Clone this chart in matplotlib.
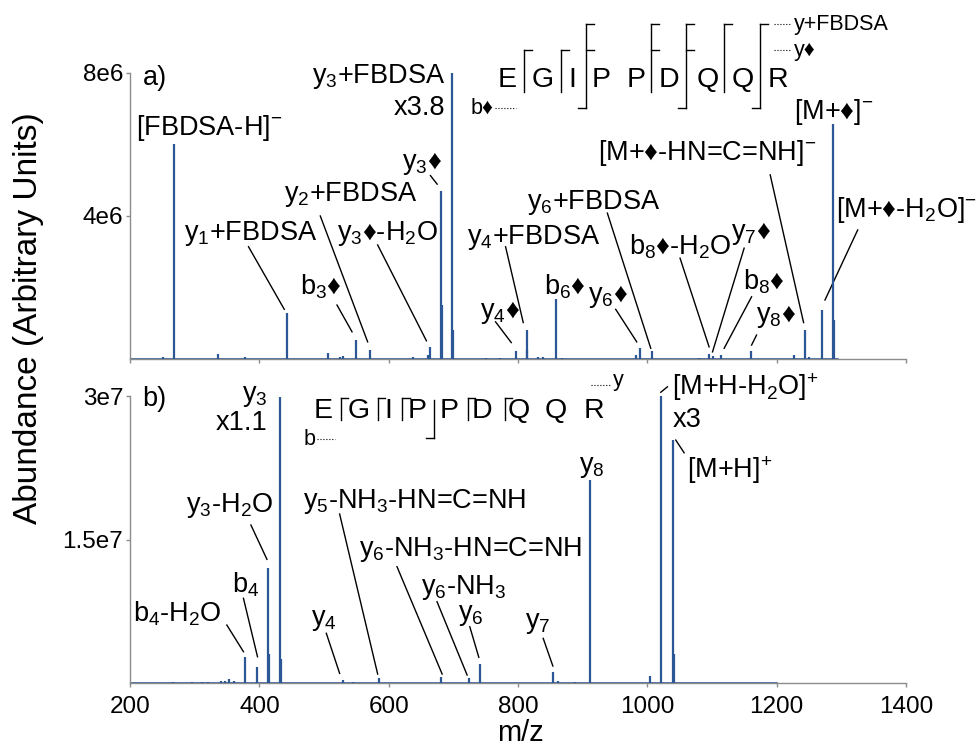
import matplotlib
matplotlib.use("Agg")
import matplotlib.pyplot as plt

plt.rcParams['font.family'] = ['Liberation Sans', 'DejaVu Sans']
plt.rcParams['mathtext.fontset'] = 'custom'
plt.rcParams['mathtext.rm'] = 'Liberation Sans'
plt.rcParams['mathtext.it'] = 'Liberation Sans'
plt.rcParams['mathtext.bf'] = 'Liberation Sans'

D = '\u2666'
PEAK = '#2b5797'
GREY = '#8c8c8c'
LABEL_FS = 19.5

# panel a) peaks (m/z, abundance)
mz_a = [251, 268.6, 335.8, 377.6, 442.0, 506.1, 524, 529, 549.5, 570.5, 638,
        660.7, 663.4, 681.5, 683, 698.6, 700, 751, 772, 796.1, 813.2, 814.5,
        830.6, 838, 859.2, 867.6, 982.6, 989.3, 1007.2, 1080, 1095.5, 1101.5,
        1114.5, 1160.0, 1227.0, 1243.6, 1250, 1269.9, 1287.4, 1289]
int_a = [0.05e6, 6.0e6, 0.15e6, 0.05e6, 1.28e6, 0.18e6, 0.07e6, 0.08e6, 0.53e6,
         0.25e6, 0.05e6, 0.12e6, 0.34e6, 4.7e6, 1.5e6, 8.0e6, 0.8e6, 0.02e6,
         0.03e6, 0.23e6, 0.81e6, 0.25e6, 0.05e6, 0.06e6, 1.68e6, 0.02e6, 0.12e6,
         0.3e6, 0.22e6, 0.04e6, 0.14e6, 0.08e6, 0.1e6, 0.23e6, 0.1e6, 0.81e6,
         0.05e6, 1.37e6, 6.57e6, 1.1e6]
scan_a = [200, 1295]

# panel b) peaks
mz_b = [267, 296, 311, 320, 340, 347, 353.5, 361, 378.1, 396.6, 414.1, 415.5,
        432.3, 433.5, 529.3, 545, 584.5, 681.1, 723.8, 740.9, 853.9, 861, 888,
        911.1, 1004.0, 1021.7, 1039.2, 1040.5]
int_b = [0.1e6, 0.15e6, 0.1e6, 0.15e6, 0.2e6, 0.2e6, 0.45e6, 0.2e6, 2.75e6,
         1.7e6, 12.0e6, 3.0e6, 29.9e6, 2.5e6, 0.31e6, 0.15e6, 0.49e6, 0.6e6,
         0.5e6, 1.99e6, 1.18e6, 0.25e6, 0.15e6, 21.2e6, 0.76e6, 30.0e6, 25.4e6,
         3.0e6]
scan_b = [200, 1200]

x_ticks = [200, 400, 600, 800, 1000, 1200, 1400]
y_ticks_a = [4e6, 8e6]
y_ticklabels_a = ['4e6', '8e6']
y_ticks_b = [1.5e7, 3e7]
y_ticklabels_b = ['1.5e7', '3e7']

sequence = ['E', 'G', 'I', 'P', 'P', 'D', 'Q', 'Q', 'R']

# label text, x, y, ha, leader line (x0, y0, x1, y1)
labels_a = [
    ('a)', 220, 7.86e6, 'left', None),
    (r'[FBDSA-H]$^{-}$', 322.3, 6.46e6, 'center', None),
    (r'y$_3$+FBDSA', 687.7, 7.89e6, 'right', None),
    ('x3.8', 687.7, 7.02e6, 'right', None),
    (r'y$_3$' + D, 652.1, 5.48e6, 'center', (664.5, 5.13e6, 674.9, 4.89e6)),
    (r'y$_2$+FBDSA', 540.6, 4.59e6, 'center', (494.2, 4.00e6, 567.4, 0.48e6)),
    (r'y$_1$+FBDSA', 385.8, 3.52e6, 'center', (383.2, 3.14e6, 438.5, 1.39e6)),
    (r'y$_3$' + D + r'-H$_2$O', 597.9, 3.52e6, 'center', (582.9, 3.19e6, 658.3, 0.51e6)),
    (r'b$_3$' + D, 495.7, 2.01e6, 'center', (520.0, 1.51e6, 543.3, 0.76e6)),
    (r'y$_4$+FBDSA', 824.0, 3.41e6, 'center', (780.7, 3.14e6, 808.0, 1.02e6)),
    (r'y$_4$' + D, 771.4, 1.31e6, 'center', (765.2, 1.04e6, 789.5, 0.46e6)),
    (r'y$_6$+FBDSA', 916.9, 4.39e6, 'center', (938.1, 4.08e6, 1005.2, 0.30e6)),
    (r'b$_6$' + D, 872.0, 2.01e6, 'center', None),
    (r'y$_6$' + D, 938.6, 1.76e6, 'center', (951.0, 1.39e6, 983.5, 0.48e6)),
    (r'b$_8$' + D + r'-H$_2$O', 1050.1, 3.13e6, 'center', (1050.5, 2.82e6, 1095.4, 0.34e6)),
    (r'y$_7$' + D, 1160.0, 3.52e6, 'center', (1149.6, 3.10e6, 1100.7, 0.20e6)),
    (r'b$_8$' + D, 1180.1, 2.15e6, 'center', (1161.1, 1.74e6, 1118.7, 0.30e6)),
    (r'y$_8$' + D, 1198.7, 1.20e6, 'center', (1168.8, 0.67e6, 1161.1, 0.39e6)),
    ('[M+' + D + r'-HN=C=NH]$^{-}$', 1091.9, 5.76e6, 'center', (1189.9, 5.15e6, 1241.5, 1.02e6)),
    ('[M+' + D + r'-H$_2$O]$^{-}$', 1400.0, 4.17e6, 'center', (1325.2, 3.61e6, 1274.6, 1.65e6)),
    ('[M+' + D + r']$^{-}$', 1288.5, 6.91e6, 'center', None),
]

labels_b = [
    ('b)', 218.6, 29.69e6, 'left', None),
    (r'y$_3$', 412.1, 30.0e6, 'right', None),
    ('x1.1', 412.1, 27.21e6, 'right', None),
    (r'y$_3$-H$_2$O', 353.3, 18.61e6, 'center', (386.9, 16.52e6, 411.7, 12.93e6)),
    (r'b$_4$', 378.1, 10.24e6, 'center', (375.4, 8.85e6, 397.1, 2.75e6)),
    (r'b$_4$-H$_2$O', 272.8, 7.29e6, 'center', (349.7, 6.06e6, 375.4, 3.27e6)),
    (r'y$_4$', 500.4, 6.59e6, 'center', (503.5, 5.20e6, 524.1, 1.01e6)),
    (r'y$_5$-NH$_3$-HN=C=NH', 467.4, 19.02e6, 'left', (524.1, 17.67e6, 582.9, 0.94e6)),
    (r'y$_6$-NH$_3$-HN=C=NH', 553.3, 14.01e6, 'left', (612.8, 12.16e6, 682.6, 0.94e6)),
    (r'y$_6$-NH$_3$', 650.0, 10.0e6, 'left', (674.7, 8.50e6, 721.2, 0.84e6)),
    (r'y$_6$', 726.5, 7.11e6, 'center', (725.4, 5.88e6, 739.3, 2.69e6)),
    (r'y$_7$', 830.2, 6.24e6, 'center', (838.9, 4.67e6, 853.8, 1.78e6)),
    (r'y$_8$', 913.8, 22.61e6, 'center', None),
    (r'[M+H-H$_2$O]$^{+}$', 1038.8, 30.97e6, 'left', (1020.7, 30.4e6, 1031.0, 30.97e6)),
    ('x3', 1038.8, 27.49e6, 'left', None),
    (r'[M+H]$^{+}$', 1060.9, 22.26e6, 'left', (1043.9, 25.40e6, 1056.8, 24.07e6)),
]

# fragment map: letter x, cut x with right hooks at levels and optional b hook
letters_x_a = [783.3, 837.5, 883.9, 927.7, 981.9, 1033.0, 1092.9, 1147.1, 1201.3]
cuts_a = [(809.0, ['yd'], False), (865.8, ['yd'], False),
          (904.5, ['yf', 'yd'], True), (1006.2, ['yf', 'yd'], False),
          (1059.4, ['yf', 'yd'], True), (1118.6, ['yf'], False),
          (1174.4, ['yf'], True)]
levels_a = {'yf': 9.36e6, 'yd': 8.64e6, 'bottom': 7.47e6, 'b': 7.02e6, 'top': 8.1e6}

letters_x_b = [499.3, 553.5, 599.9, 643.9, 692.9, 743.5, 801.3, 858.1, 917.4]
cuts_b = [(526.2, ['y'], False), (583.5, ['y'], False), (620.7, ['y'], False),
          (669.6, [], True), (722.1, ['y'], False), (779.1, ['y'], False)]
levels_b = {'y': 29.79e6, 'bottom': 27.49e6, 'b': 25.61e6, 'top': 29.6e6}


def draw_spectrum(ax, mz, inten, scan):
    ax.plot(scan, [0, 0], color=PEAK, lw=1.2, zorder=2)
    ax.vlines(mz, 0, inten, color=PEAK, lw=1.6, zorder=3)


def style_axes(ax, yticks, yticklabels, ymax, show_x):
    ax.set_xlim(200, 1400)
    ax.set_ylim(0, ymax)
    for s in ['top', 'right']:
        ax.spines[s].set_visible(False)
    for s in ['left', 'bottom']:
        ax.spines[s].set_color(GREY)
        ax.spines[s].set_linewidth(1)
    ax.spines['left'].set_bounds(0, yticks[-1])
    ax.set_xticks(x_ticks)
    ax.set_yticks(yticks)
    ax.set_yticklabels(yticklabels)
    ax.tick_params(axis='both', colors=GREY, labelcolor='black', labelsize=17.5,
                   length=3, width=1, pad=2)
    ax.tick_params(axis='x', labelbottom=show_x, pad=6)
    ax.patch.set_alpha(0)


def draw_labels(ax, labels):
    for txt, x, y, ha, line in labels:
        ax.text(x, y, txt, ha=ha, va='center', fontsize=LABEL_FS)
        if line is not None:
            ax.plot([line[0], line[2]], [line[1], line[3]], color='black', lw=1)


def draw_map(ax, xs, y_mid, cuts, lv, hook, fs):
    for s, x in zip(sequence, xs):
        ax.text(x, y_mid, s, ha='center', va='center', fontsize=fs)
    for x, ups, has_b in cuts:
        top = max([lv[k] for k in ups]) if ups else lv['top']
        bot = lv['b'] if has_b else lv['bottom']
        ax.plot([x, x], [top, bot], color='black', lw=1)
        for k in ups:
            ax.plot([x, x + hook], [lv[k], lv[k]], color='black', lw=1)
        if has_b:
            ax.plot([x - hook, x], [bot, bot], color='black', lw=1)


fig = plt.figure(figsize=(9.77, 7.5), dpi=100)
ax_a = fig.add_axes([0.1331, 0.5213, 0.7943, 0.4787])
ax_b = fig.add_axes([0.1331, 0.0893, 0.7943, 0.4173])

# a) negative mode
draw_spectrum(ax_a, mz_a, int_a, scan_a)
style_axes(ax_a, y_ticks_a, y_ticklabels_a, 10.04e6, False)
draw_labels(ax_a, labels_a)
draw_map(ax_a, letters_x_a, 7.80e6, cuts_a, levels_a, 12.4, 20.5)
ax_a.plot([1195.6, 1221.9], [levels_a['yf']] * 2, color='black', lw=0.8, ls=':')
ax_a.text(1226.3, levels_a['yf'], 'y+FBDSA', ha='left', va='center', fontsize=15.5)
ax_a.plot([1195.6, 1221.9], [levels_a['yd']] * 2, color='black', lw=0.8, ls=':')
ax_a.text(1226.3, levels_a['yd'], 'y' + D, ha='left', va='center', fontsize=15.5)
ax_a.text(762.1, levels_a['b'], 'b' + D, ha='right', va='center', fontsize=15.5)
ax_a.plot([764.1, 796.1], [levels_a['b']] * 2, color='black', lw=0.8, ls=':')

# b) positive mode
draw_spectrum(ax_b, mz_b, int_b, scan_b)
style_axes(ax_b, y_ticks_b, y_ticklabels_b, 32.72e6, True)
draw_labels(ax_b, labels_b)
draw_map(ax_b, letters_x_b, 28.49e6, cuts_b, levels_b, 11.5, 20.5)
ax_b.plot([912.3, 943.2], [31.2e6] * 2, color='black', lw=0.8, ls=':')
ax_b.text(946.0, 31.6e6, 'y', ha='left', va='center', fontsize=15.5)
ax_b.text(487.0, 25.5e6, 'b', ha='right', va='center', fontsize=15.5)
ax_b.plot([489.1, 517.4], [25.5e6] * 2, color='black', lw=0.8, ls=':')

fig.text(0.0287, 0.576, 'Abundance (Arbitrary Units)', rotation=90,
         ha='center', va='center', fontsize=24)
fig.text(0.533, 0.023, 'm/z', ha='center', va='center', fontsize=21)

fig.savefig('out.png', dpi=100)
